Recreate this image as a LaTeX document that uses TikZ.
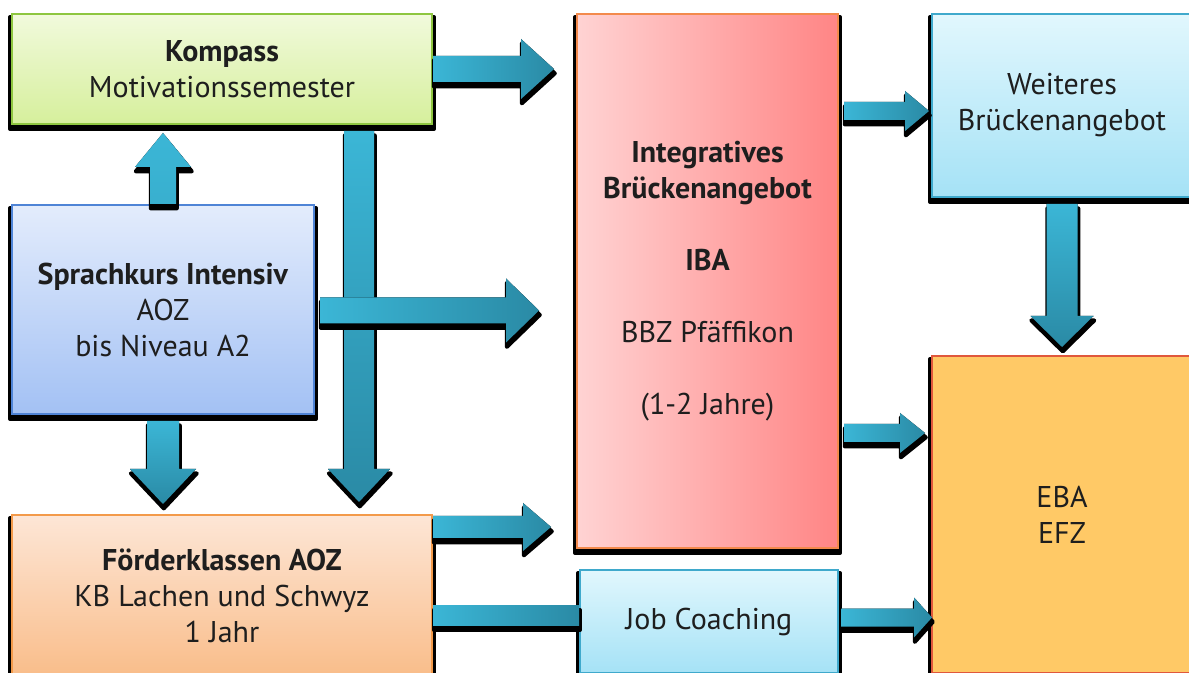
\documentclass[tikz,border=0pt]{standalone}
\usepackage{fontspec}
\setmainfont{PT Sans}
\usetikzlibrary{calc,backgrounds}
\definecolor{arrowL}{HTML}{3BB6D6}
\definecolor{arrowD}{HTML}{2A8AA5}
\definecolor{txt}{HTML}{1E1E1E}
\definecolor{kompT}{HTML}{F1FADC}
\definecolor{kompB}{HTML}{D6EF9C}
\definecolor{kompE}{HTML}{8EC640}
\definecolor{sprT}{HTML}{E3ECFC}
\definecolor{sprB}{HTML}{A3C1F4}
\definecolor{sprE}{HTML}{4F84D6}
\definecolor{foeT}{HTML}{FDE6D6}
\definecolor{foeB}{HTML}{F9BD8A}
\definecolor{foeE}{HTML}{F39A4A}
\definecolor{ibaL}{HTML}{FFD3D3}
\definecolor{ibaR}{HTML}{FF8585}
\definecolor{ibaE}{HTML}{F38A4C}
\definecolor{cyT}{HTML}{E1F7FD}
\definecolor{cyB}{HTML}{A5E2F6}
\definecolor{cyE}{HTML}{3FA9CC}
\definecolor{ebaF}{HTML}{FFC966}
\definecolor{ebaE}{HTML}{E0583C}
\tikzset{
  box/.style={rectangle, line width=1pt, align=center, text=txt, inner sep=0pt,
    font=\fontsize{15}{18}\selectfont},
  boxshadow/.style={fill=black, draw=black, line width=2pt, line join=round},
  arrowshadow/.style={fill=black, draw=black, line width=2pt, line join=round,
    transform canvas={shift={(0.4pt,-2.2pt)}}},
  harrow/.style={left color=arrowL, right color=arrowD},
  varrow/.style={top color=arrowL, bottom color=arrowD},
  uarrow/.style={top color=arrowL, bottom color=arrowL!85!arrowD},
}
% #1 start, #2 tip, #3 shaft half width, #4 head half width, #5 head length, #6 shading style
\newcommand{\blockarrow}[6]{%
  \coordinate (ba-c) at ($(#2)!#5!(#1)$);
  \fill[arrowshadow] ($(#1)!#3!90:(#2)$) -- ($(ba-c)!#3!90:(#2)$) -- ($(ba-c)!#4!90:(#2)$) -- (#2)
     -- ($(ba-c)!#4!-90:(#2)$) -- ($(ba-c)!#3!-90:(#2)$) -- ($(#1)!#3!-90:(#2)$) -- cycle;
  \fill[#6] ($(#1)!#3!90:(#2)$) -- ($(ba-c)!#3!90:(#2)$) -- ($(ba-c)!#4!90:(#2)$) -- (#2)
     -- ($(ba-c)!#4!-90:(#2)$) -- ($(ba-c)!#3!-90:(#2)$) -- ($(#1)!#3!-90:(#2)$) -- cycle;
}
\newcommand{\blockbar}[4]{%
  \fill[arrowshadow] ($(#1)!#3!90:(#2)$) -- ($(#2)!#3!-90:(#1)$) -- ($(#2)!#3!90:(#1)$) -- ($(#1)!#3!-90:(#2)$) -- cycle;
  \fill[#4] ($(#1)!#3!90:(#2)$) -- ($(#2)!#3!-90:(#1)$) -- ($(#2)!#3!90:(#1)$) -- ($(#1)!#3!-90:(#2)$) -- cycle;
}
% drop shadow of a box node: black frame shifted down
\newcommand{\nodeshadow}[1]{%
  \fill[boxshadow] ($(#1.north west)+(-1,4)$) rectangle ($(#1.south east)+(1,4)$);
}
\begin{document}
\begin{tikzpicture}[x=0.5pt, y=-0.5pt]
\clip (0,0) rectangle (1189,673);

% boxes
\node[box, draw=kompE, top color=kompT, bottom color=kompB, minimum width=210pt, minimum height=55pt]
  (kompass) at (222,69) {\textbf{Kompass}\\Motivationssemester};
\node[box, draw=sprE, top color=sprT, bottom color=sprB, minimum width=151pt, minimum height=104.5pt]
  (sprach) at (163,309.5) {\textbf{Sprachkurs Intensiv}\\AOZ\\bis Niveau A2};
\node[box, draw=foeE, top color=foeT, bottom color=foeB, minimum width=210pt, minimum height=80.5pt]
  (foerder) at (222,595.5) {\textbf{Förderklassen AOZ}\\KB Lachen und Schwyz\\1 Jahr};
\node[box, draw=ibaE, left color=ibaL, right color=ibaR, minimum width=130.5pt, minimum height=267pt]
  (iba) at (707.5,281) {\textbf{Integratives}\\\textbf{Brückenangebot}\\[18pt]\textbf{IBA}\\[18pt]BBZ Pfäffikon\\[18pt](1-2 Jahre)};
\node[box, draw=cyE, top color=cyT, bottom color=cyB, minimum width=130pt, minimum height=91.5pt]
  (weiteres) at (1062,105.5) {Weiteres\\Brückenangebot};
\node[box, draw=ebaE, fill=ebaF, minimum width=130pt, minimum height=158.5pt]
  (eba) at (1062,514.5) {EBA\\EFZ};
\node[box, draw=cyE, top color=cyT, bottom color=cyB, minimum width=129pt, minimum height=51.5pt]
  (job) at (709,621.5) {Job Coaching};

\begin{scope}[on background layer]
  \fill[white] (0,0) rectangle (1189,673);
  \nodeshadow{kompass}
  \nodeshadow{sprach}
  \nodeshadow{foerder}
  \nodeshadow{iba}
  \nodeshadow{weiteres}
  \nodeshadow{eba}
  \nodeshadow{job}
\end{scope}

% connector end points
\coordinate (a1s) at (kompass.east);
\coordinate (a1e) at ($(kompass.east -| iba.west)+(-22,0)$);
\coordinate (a2s) at (sprach.north);
\coordinate (a2e) at ($(kompass.south -| sprach.north)+(0,8)$);
\coordinate (a3s) at ($(sprach.south)+(0,6)$);
\coordinate (a3e) at ($(foerder.north -| sprach.south)+(0,-10)$);
\coordinate (a4s) at ($(kompass.south east)+(-74,6)$);
\coordinate (a4e) at ($(foerder.north east)+(-74,-12)$);
\coordinate (a5s) at ($(sprach.east)+(5,1)$);
\coordinate (a5e) at ($(sprach.east -| iba.west)+(-37,1)$);
\coordinate (a6s) at ($(foerder.north east)+(0,13)$);
\coordinate (a6e) at ($(foerder.north east -| iba.west)+(-25,13)$);
\coordinate (a7s) at ($(foerder.east)+(0,20)$);
\coordinate (a7e) at (job.west |- a7s);
\coordinate (a8s) at ($(job.east)+(2,-4)$);
\coordinate (a8e) at ($(job.east -| eba.west)+(1,-4)$);
\coordinate (a9s) at ($(iba.east)+(5,152)$);
\coordinate (a9e) at ($(a9s -| eba.west)+(-6,0)$);
\coordinate (a10s) at ($(iba.north east)+(5,98)$);
\coordinate (a10e) at ($(a10s -| weiteres.west)+(-2,0)$);
\coordinate (a11s) at ($(weiteres.south)+(0,6)$);
\coordinate (a11e) at ($(eba.north)+(0,-8)$);

% block arrows
\blockarrow{a1s}{a1e}{6.5pt}{15pt}{16.5pt}{harrow}
\blockarrow{a2s}{a2e}{6.5pt}{14pt}{17pt}{uarrow}
\blockarrow{a3s}{a3e}{8pt}{16.5pt}{17.5pt}{varrow}
\blockarrow{a4s}{a4e}{7.5pt}{15.5pt}{16.5pt}{varrow}
\blockarrow{a5s}{a5e}{6.5pt}{16pt}{16.5pt}{harrow}
\blockarrow{a6s}{a6e}{5.5pt}{12pt}{14pt}{harrow}
\blockbar{a7s}{a7e}{5pt}{harrow}
\blockarrow{a8s}{a8e}{4.5pt}{10pt}{9pt}{harrow}
\blockarrow{a9s}{a9e}{4.5pt}{10pt}{12.5pt}{harrow}
\blockarrow{a10s}{a10e}{4.5pt}{10pt}{12pt}{harrow}
\blockarrow{a11s}{a11e}{7.75pt}{15.75pt}{15.5pt}{varrow}
\end{tikzpicture}
\end{document}
